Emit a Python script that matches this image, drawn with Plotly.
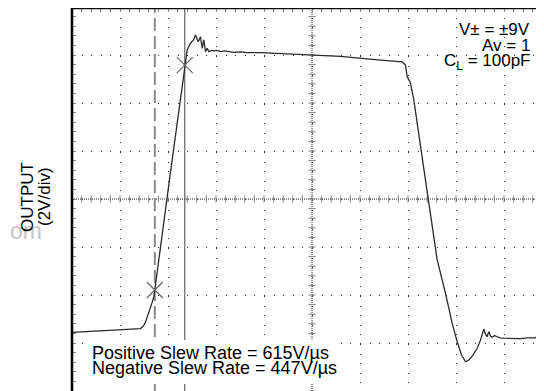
import numpy as np
import plotly.graph_objects as go

# ---- data (time in ns, output in volts; 25 ns/div, 2 V/div) ----
time_ns = [0.26, 9.64, 20.05, 30.47, 35.68, 37.24, 38.28, 39.32, 40.52, 41.67, 42.60, 43.13,
           50.94, 58.75, 60.0, 61.72, 63.28, 64.32, 65.73, 66.93, 67.81, 68.65, 69.53, 70.42,
           71.25, 72.66, 73.85, 75.78, 77.34, 79.43, 81.51, 84.27, 87.76, 91.25, 98.18,
           119.01, 139.84, 160.68, 171.98, 173.70, 174.58, 176.30, 178.02, 183.33, 190.21,
           194.53, 198.02, 200.63, 202.86, 204.95, 206.67, 208.59, 211.04, 212.76, 214.48,
           215.36, 216.15, 217.08, 217.97, 218.85, 220.05, 221.46, 223.18, 224.90, 228.39,
           233.59, 237.24, 240.52, 242.97, 245.83]
output_v = [-5.56, -5.52, -5.48, -5.44, -5.40, -5.29, -5.13, -4.88, -4.63, -4.33, -4.08, -3.79,
            0.90, 5.58, 6.21, 6.49, 6.63, 6.83, 6.55, 6.76, 6.28, 6.63, 6.14, 6.28,
            6.14, 6.19, 6.17, 6.19, 6.14, 6.17, 6.15, 6.11, 6.13, 6.10, 6.10,
            6.02, 5.94, 5.79, 5.71, 5.58, 5.10, 4.82, 4.13, 1.21, -2.54,
            -3.93, -5.18, -5.95, -6.50, -6.78, -6.71, -6.54, -6.22, -5.88, -5.42,
            -5.63, -5.74, -5.53, -5.71, -5.76, -5.69, -5.74, -5.79, -5.80, -5.81,
            -5.82, -5.79, -5.79, -5.75, -5.71]

cursor_t = [43.13, 58.75]
cursor_v = [-3.79, 5.58]

ns_per_div = 25
v_per_div = 2
x_max = 472 / 48 * ns_per_div
center_t = 5 * ns_per_div

spec_lines = ["V\u00b1 = \u00b19V", "Av = 1", "C<sub>L</sub> = 100pF"]
slew_lines = ["Positive Slew Rate = 615V/\u00b5s", "Negative Slew Rate = 447V/\u00b5s"]
ylabel_lines = ["OUTPUT", "(2V/div)"]

FONT = "Liberation Sans, Arial, sans-serif"

# page offset of the figure (default body margin) is 8 px
W, H = 536, 383
PLOT_L, PLOT_R, PLOT_T, PLOT_B = 72, 544, 8, 391

fig = go.Figure()

# center graticule minor ticks
ht = np.arange(0, x_max + 0.01, ns_per_div / 5)
vt = np.arange(-8, 8.01, v_per_div / 5)
fig.add_trace(go.Scatter(x=ht, y=np.zeros_like(ht), mode="markers", hoverinfo="skip",
                         marker=dict(symbol="line-ns", size=5, line=dict(width=1, color="#808080"))))
fig.add_trace(go.Scatter(x=np.full_like(vt, center_t), y=vt, mode="markers", hoverinfo="skip",
                         marker=dict(symbol="line-ew", size=5, line=dict(width=1, color="#808080"))))

# waveform
fig.add_trace(go.Scatter(x=time_ns, y=output_v, mode="lines",
                         line=dict(color="#2a2a2a", width=1.3)))

# cursor crosses
fig.add_trace(go.Scatter(x=cursor_t, y=cursor_v, mode="markers",
                         marker=dict(symbol="x-thin", size=16, line=dict(width=1.2, color="#666666"))))


def px_x(p):
    return (p - PLOT_L) / (PLOT_R - PLOT_L)


def px_y(p):
    return (PLOT_B - p) / (PLOT_B - PLOT_T)


shapes = [
    dict(type="line", xref="x", yref="paper", x0=center_t, x1=center_t, y0=0, y1=1,
         line=dict(color="#222", width=1, dash="1px,1px"), layer="below"),
    dict(type="line", xref="paper", yref="y", x0=0, x1=1, y0=0, y1=0,
         line=dict(color="#222", width=1, dash="1px,1px"), layer="below"),
    dict(type="line", xref="x", yref="paper", x0=cursor_t[0], x1=cursor_t[0], y0=0, y1=1,
         line=dict(color="#8a8a8a", width=2, dash="13px,5px"), layer="below"),
    dict(type="line", xref="x", yref="paper", x0=cursor_t[1], x1=cursor_t[1], y0=0, y1=1,
         line=dict(color="#444", width=1), layer="below"),
    dict(type="rect", xref="paper", yref="paper", x0=px_x(84), x1=px_x(332),
         y0=px_y(384), y1=px_y(340), fillcolor="white",
         line=dict(width=0), layer="above"),
    dict(type="line", xref="paper", yref="paper", x0=0, x1=1, y0=1, y1=1,
         line=dict(color="black", width=2.5), layer="above"),
    dict(type="line", xref="paper", yref="paper", x0=0, x1=0, y0=0, y1=1,
         line=dict(color="black", width=2.5), layer="above"),
]

annotations = [
    dict(text="om", x=px_x(8), y=px_y(231), xanchor="left", yanchor="middle",
         font=dict(size=23, color="#c4c4c4", family=FONT)),
]
for txt, xc in zip(ylabel_lines, [27, 44]):
    annotations.append(dict(text=txt, x=px_x(xc), y=px_y(197), textangle=-90,
                            xanchor="center", yanchor="middle",
                            font=dict(size=17, color="black", family=FONT)))
for txt, yc in zip(spec_lines, [30, 45, 62.5]):
    annotations.append(dict(text=txt, x=px_x(531.5), y=px_y(yc), xanchor="right", yanchor="middle",
                            font=dict(size=17, color="black", family=FONT)))
for txt, yc in zip(slew_lines, [353.3, 368.3]):
    annotations.append(dict(text=txt, x=px_x(90), y=px_y(yc), xanchor="left", yanchor="middle",
                            font=dict(size=18, color="black", family=FONT)))
for a in annotations:
    a.update(xref="paper", yref="paper", showarrow=False)

fig.update_layout(
    width=W, height=H,
    margin=dict(l=PLOT_L - 8, r=0, t=0, b=0, pad=0),
    plot_bgcolor="white", paper_bgcolor="white",
    showlegend=False,
    font=dict(family=FONT),
    shapes=shapes,
    annotations=annotations,
    xaxis=dict(range=[0, x_max], dtick=ns_per_div, tick0=0, showticklabels=False,
               showgrid=True, gridcolor="#333", gridwidth=1, griddash="1px,8.6px",
               ticks="inside", ticklen=4, tickcolor="#888", side="top",
               minor=dict(dtick=ns_per_div / 5, ticks="inside", ticklen=4, tickcolor="#888", showgrid=False),
               zeroline=False, showline=False, fixedrange=True),
    yaxis=dict(range=[-8, (199 - PLOT_T) / 48 * v_per_div], dtick=v_per_div, tick0=0, showticklabels=False,
               showgrid=True, gridcolor="#333", gridwidth=1, griddash="1px,8.6px",
               ticks="inside", ticklen=4, tickcolor="#888",
               minor=dict(dtick=v_per_div / 5, ticks="inside", ticklen=4, tickcolor="#888", showgrid=False),
               zeroline=False, showline=False, fixedrange=True),
)

fig.write_html("out.html")
